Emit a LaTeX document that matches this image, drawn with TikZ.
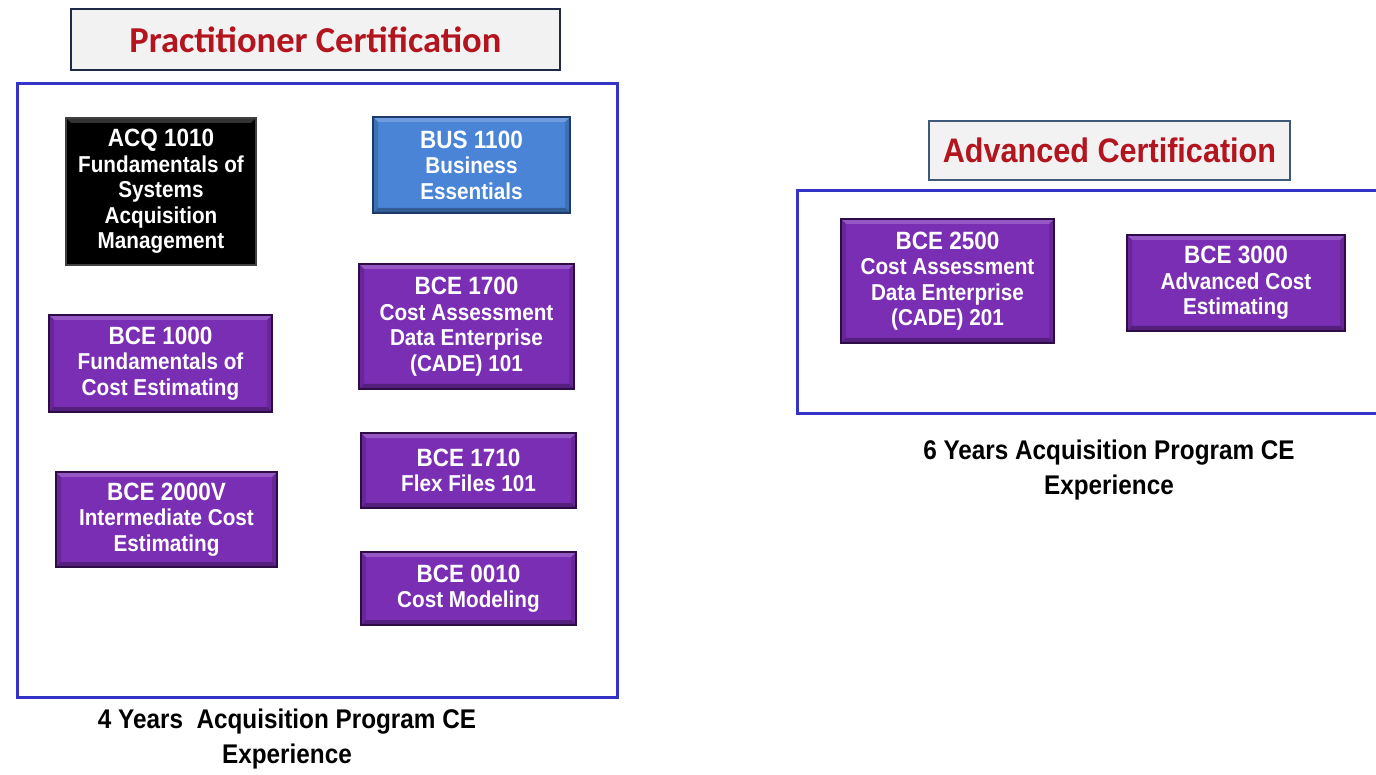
\documentclass[tikz,border=0pt]{standalone}
\usepackage{fontspec}
\setmainfont{Liberation Sans}
\newfontfamily\boxfont[FakeStretch=0.9]{Liberation Sans}
\newfontfamily\titlefont{Carlito}
\definecolor{cpurple}{HTML}{7A2EB4}
\definecolor{cpurpledark}{HTML}{2E0C45}
\definecolor{cblue}{HTML}{4A84D6}
\definecolor{cbluedark}{HTML}{1E3A6A}
\definecolor{cframe}{HTML}{3434C8}
\definecolor{ctitlered}{HTML}{B3141E}
\definecolor{ctitlefill}{HTML}{F2F2F2}
\definecolor{cnavy}{HTML}{1F2A48}
\definecolor{cslate}{HTML}{3E5A78}
\tikzset{
  bevel/.style={path picture={
    \fill[white,opacity=0.2] (path picture bounding box.north west) -- (path picture bounding box.north east)
      -- ([xshift=-5pt,yshift=-5pt]path picture bounding box.north east) -- ([xshift=5pt,yshift=-5pt]path picture bounding box.north west) -- cycle;
    \fill[black,opacity=0.3] (path picture bounding box.south west) -- (path picture bounding box.south east)
      -- ([xshift=-5pt,yshift=5pt]path picture bounding box.south east) -- ([xshift=5pt,yshift=5pt]path picture bounding box.south west) -- cycle;
    \fill[black,opacity=0.15] (path picture bounding box.south west) -- (path picture bounding box.north west)
      -- ([xshift=5pt,yshift=-5pt]path picture bounding box.north west) -- ([xshift=5pt,yshift=5pt]path picture bounding box.south west) -- cycle;
    \fill[black,opacity=0.15] (path picture bounding box.south east) -- (path picture bounding box.north east)
      -- ([xshift=-5pt,yshift=-5pt]path picture bounding box.north east) -- ([xshift=-5pt,yshift=5pt]path picture bounding box.south east) -- cycle;
  }},
  coursebox/.style={bevel, line width=2pt, inner sep=0pt, align=center, text=white,
    font=\boxfont\bfseries\fontsize{23}{25.5}\selectfont},
  purplebox/.style={coursebox, fill=cpurple, draw=cpurpledark},
  bluebox/.style={coursebox, fill=cblue, draw=cbluedark},
  blackbox/.style={coursebox, fill=black, draw=black!75},
  frame/.style={draw=cframe, line width=3pt},
  titlebox/.style={fill=ctitlefill, inner sep=0pt, text=ctitlered},
  exptext/.style={align=center, font=\boxfont\bfseries\fontsize{27}{35}\selectfont, text=black}
}
\newcommand{\ctitle}[1]{{\fontsize{25}{25.5}\selectfont #1}}
\begin{document}
\begin{tikzpicture}[x=1pt,y=-1pt]
\useasboundingbox (0,0) rectangle (1376,775);
% left side
\node[titlebox, draw=cnavy, line width=2.5pt, minimum width=489pt, minimum height=61pt,
      font=\titlefont\bfseries\fontsize{36.5}{40}\selectfont] (ptitle) at (315.5,39.5) {Practitioner Certification};
\node[frame, minimum width=600pt, minimum height=613pt, inner sep=0pt] (lframe) at (317,390.5) {};
\node[blackbox, minimum width=190pt, minimum height=147pt] (acq) at (161,191.5)
  {\ctitle{ACQ 1010}\\Fundamentals of\\Systems\\Acquisition\\Management};
\node[bluebox, minimum width=197pt, minimum height=96pt] (bus) at (471.5,165)
  {\ctitle{BUS 1100}\\Business\\Essentials};
\node[purplebox, minimum width=215pt, minimum height=125pt] (b1700) at (466.5,326.5)
  {\ctitle{BCE 1700}\\Cost Assessment\\Data Enterprise\\(CADE) 101};
\node[purplebox, minimum width=223pt, minimum height=97pt] (b1000) at (160.5,363.5)
  {\ctitle{BCE 1000}\\Fundamentals of\\Cost Estimating};
\node[purplebox, minimum width=221pt, minimum height=95pt] (b2000) at (166.5,519.5)
  {\ctitle{BCE 2000V}\\Intermediate Cost\\Estimating};
\node[purplebox, minimum width=215pt, minimum height=75pt] (b1710) at (468.5,470.5)
  {\ctitle{BCE 1710}\\Flex Files 101};
\node[purplebox, minimum width=215pt, minimum height=73pt] (b0010) at (468.5,588.5)
  {\ctitle{BCE 0010}\\Cost Modeling};
\node[exptext] (lexp) at (287,739.5) {4 Years\ \ Acquisition Program CE\\Experience};
% right side
\node[titlebox, draw=cslate, line width=2pt, minimum width=361pt, minimum height=59pt,
      font=\boxfont\bfseries\fontsize{34}{40}\selectfont] (atitle) at (1109.5,150.5) {Advanced Certification};
\coordinate (rtr) at (1385,191);
\coordinate (rtl) at (797,191);
\coordinate (rbl) at (797,413);
\coordinate (rbr) at (1385,413);
\draw[frame] (rtr) -- (rtl) -- (rbl) -- (rbr);
\node[purplebox, minimum width=213pt, minimum height=124pt] (b2500) at (947.5,281)
  {\ctitle{BCE 2500}\\Cost Assessment\\Data Enterprise\\(CADE) 201};
\node[purplebox, minimum width=218pt, minimum height=96pt] (b3000) at (1236,283)
  {\ctitle{BCE 3000}\\Advanced Cost\\Estimating};
\node[exptext] (rexp) at (1109,470.5) {6 Years Acquisition Program CE\\Experience};
\end{tikzpicture}
\end{document}
